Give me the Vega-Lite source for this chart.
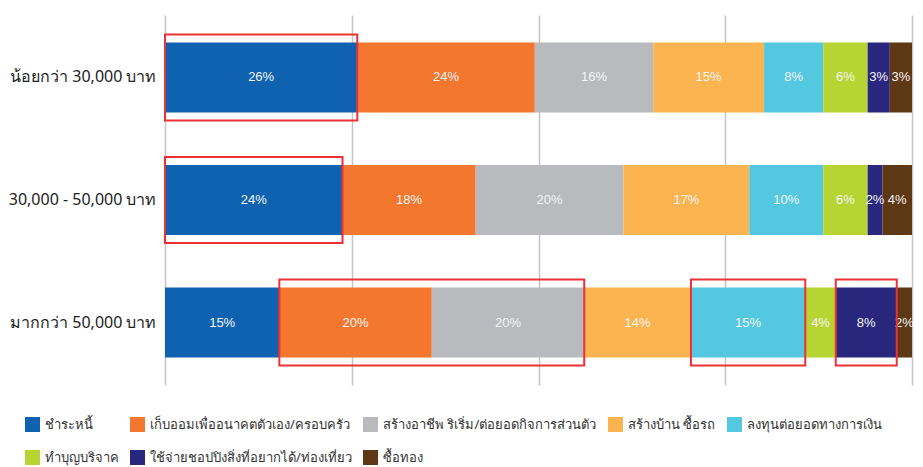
{
  "$schema": "https://vega.github.io/schema/vega-lite/v6.json",
  "width": 747,
  "height": 370,
  "autosize": {"type": "none"},
  "padding": {"left": 165, "top": 15, "right": 11, "bottom": 82},
  "background": "white",
  "config": {
    "view": {"stroke": null},
    "font": "Liberation Sans, Noto Sans, sans-serif"
  },
  "data": {
    "values": [
      {"income": "น้อยกว่า 30,000 บาท", "category": "ชำระหนี้", "ord": 1, "value": 0.26, "hl": "r1"},
      {"income": "น้อยกว่า 30,000 บาท", "category": "เก็บออมเพื่ออนาคตตัวเอง/ครอบครัว", "ord": 2, "value": 0.24, "hl": null},
      {"income": "น้อยกว่า 30,000 บาท", "category": "สร้างอาชีพ ริเริ่ม/ต่อยอดกิจการส่วนตัว", "ord": 3, "value": 0.16, "hl": null},
      {"income": "น้อยกว่า 30,000 บาท", "category": "สร้างบ้าน ซื้อรถ", "ord": 4, "value": 0.15, "hl": null},
      {"income": "น้อยกว่า 30,000 บาท", "category": "ลงทุนต่อยอดทางการเงิน", "ord": 5, "value": 0.08, "hl": null},
      {"income": "น้อยกว่า 30,000 บาท", "category": "ทำบุญบริจาค", "ord": 6, "value": 0.06, "hl": null},
      {"income": "น้อยกว่า 30,000 บาท", "category": "ใช้จ่ายชอปปิงสิ่งที่อยากได้/ท่องเที่ยว", "ord": 7, "value": 0.03, "hl": null},
      {"income": "น้อยกว่า 30,000 บาท", "category": "ซื้อทอง", "ord": 8, "value": 0.03, "hl": null},
      {"income": "30,000 - 50,000 บาท", "category": "ชำระหนี้", "ord": 1, "value": 0.24, "hl": "r2"},
      {"income": "30,000 - 50,000 บาท", "category": "เก็บออมเพื่ออนาคตตัวเอง/ครอบครัว", "ord": 2, "value": 0.18, "hl": null},
      {"income": "30,000 - 50,000 บาท", "category": "สร้างอาชีพ ริเริ่ม/ต่อยอดกิจการส่วนตัว", "ord": 3, "value": 0.20, "hl": null},
      {"income": "30,000 - 50,000 บาท", "category": "สร้างบ้าน ซื้อรถ", "ord": 4, "value": 0.17, "hl": null},
      {"income": "30,000 - 50,000 บาท", "category": "ลงทุนต่อยอดทางการเงิน", "ord": 5, "value": 0.10, "hl": null},
      {"income": "30,000 - 50,000 บาท", "category": "ทำบุญบริจาค", "ord": 6, "value": 0.06, "hl": null},
      {"income": "30,000 - 50,000 บาท", "category": "ใช้จ่ายชอปปิงสิ่งที่อยากได้/ท่องเที่ยว", "ord": 7, "value": 0.02, "hl": null},
      {"income": "30,000 - 50,000 บาท", "category": "ซื้อทอง", "ord": 8, "value": 0.04, "hl": null},
      {"income": "มากกว่า 50,000 บาท", "category": "ชำระหนี้", "ord": 1, "value": 0.15, "hl": null},
      {"income": "มากกว่า 50,000 บาท", "category": "เก็บออมเพื่ออนาคตตัวเอง/ครอบครัว", "ord": 2, "value": 0.20, "hl": "r3a"},
      {"income": "มากกว่า 50,000 บาท", "category": "สร้างอาชีพ ริเริ่ม/ต่อยอดกิจการส่วนตัว", "ord": 3, "value": 0.20, "hl": "r3a"},
      {"income": "มากกว่า 50,000 บาท", "category": "สร้างบ้าน ซื้อรถ", "ord": 4, "value": 0.14, "hl": null},
      {"income": "มากกว่า 50,000 บาท", "category": "ลงทุนต่อยอดทางการเงิน", "ord": 5, "value": 0.15, "hl": "r3b"},
      {"income": "มากกว่า 50,000 บาท", "category": "ทำบุญบริจาค", "ord": 6, "value": 0.04, "hl": null},
      {"income": "มากกว่า 50,000 บาท", "category": "ใช้จ่ายชอปปิงสิ่งที่อยากได้/ท่องเที่ยว", "ord": 7, "value": 0.08, "hl": "r3c"},
      {"income": "มากกว่า 50,000 บาท", "category": "ซื้อทอง", "ord": 8, "value": 0.02, "hl": null}
    ]
  },
  "encoding": {
    "y": {
      "field": "income",
      "type": "nominal",
      "sort": ["น้อยกว่า 30,000 บาท", "30,000 - 50,000 บาท", "มากกว่า 50,000 บาท"],
      "scale": {"paddingInner": 0.4286, "paddingOuter": 0.2245},
      "axis": {
        "title": null,
        "domain": false,
        "ticks": false,
        "grid": false,
        "labelFontSize": 16,
        "labelColor": "#222222",
        "labelPadding": 9,
        "labelFont": "Noto Sans, Liberation Sans, sans-serif"
      }
    }
  },
  "layer": [
    {
      "mark": {"type": "bar"},
      "encoding": {
        "x": {
          "field": "value",
          "type": "quantitative",
          "stack": "normalize",
          "scale": {"domain": [0, 1], "nice": false},
          "axis": {
            "title": null,
            "labels": false,
            "ticks": false,
            "domain": false,
            "grid": true,
            "gridColor": "#c4c4c4",
            "gridWidth": 1.5,
            "values": [0, 0.25, 0.5, 0.75, 1]
          }
        },
        "order": {"field": "ord", "type": "quantitative"},
        "color": {
          "field": "category",
          "type": "nominal",
          "scale": {
            "domain": ["ชำระหนี้", "เก็บออมเพื่ออนาคตตัวเอง/ครอบครัว", "สร้างอาชีพ ริเริ่ม/ต่อยอดกิจการส่วนตัว", "สร้างบ้าน ซื้อรถ", "ลงทุนต่อยอดทางการเงิน", "ทำบุญบริจาค", "ใช้จ่ายชอปปิงสิ่งที่อยากได้/ท่องเที่ยว", "ซื้อทอง"],
            "range": ["#0f62b0", "#f3772f", "#b9babd", "#fbb44f", "#54c8e1", "#b7d433", "#29267e", "#5e3715"]
          },
          "legend": {
            "title": null,
            "orient": "none",
            "legendX": -140,
            "legendY": 402,
            "direction": "horizontal",
            "columns": 5,
            "symbolType": "square",
            "symbolSize": 225,
            "symbolStrokeWidth": 0,
            "labelFontSize": 13,
            "labelColor": "#333333",
            "labelFont": "Noto Sans, Liberation Sans, sans-serif",
            "labelOffset": 5,
            "labelLimit": 400,
            "columnPadding": 11,
            "rowPadding": 18
          }
        }
      }
    },
    {
      "mark": {"type": "text", "color": "#f5f5f5", "fontSize": 13},
      "encoding": {
        "x": {"field": "value", "type": "quantitative", "stack": "normalize", "bandPosition": 0.5},
        "order": {"field": "ord", "type": "quantitative"},
        "text": {"field": "value", "type": "quantitative", "format": ".0%"}
      }
    },
    {
      "transform": [
        {"stack": "value", "groupby": ["income"], "sort": [{"field": "ord", "order": "ascending"}], "offset": "normalize", "as": ["s0", "s1"]},
        {"filter": "datum.hl != null"},
        {"aggregate": [{"op": "min", "field": "s0", "as": "start"}, {"op": "max", "field": "s1", "as": "end"}], "groupby": ["income", "hl"]}
      ],
      "mark": {"type": "bar", "fill": "transparent", "stroke": "#ec3237", "strokeWidth": 2, "height": {"band": 1.23}},
      "encoding": {
        "x": {"field": "start", "type": "quantitative"},
        "x2": {"field": "end"}
      }
    }
  ]
}
